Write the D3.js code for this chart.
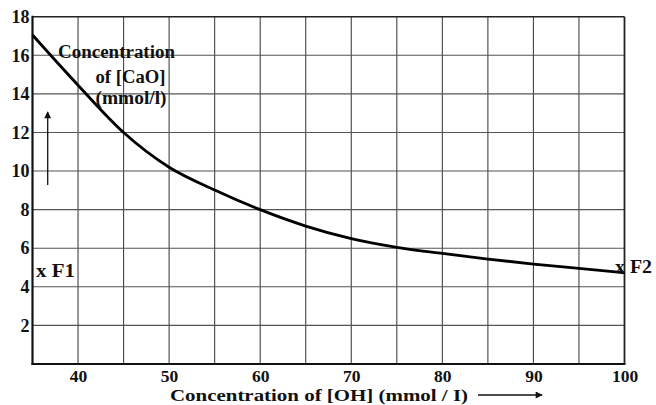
<!DOCTYPE html>
<html><head><meta charset="utf-8">
<script src="https://cdn.jsdelivr.net/npm/d3@7"></script>
<style>
html,body{margin:0;padding:0;background:#fff;}
svg text{font-family:"Liberation Serif","Times New Roman",serif;font-weight:bold;fill:#111;}
</style></head>
<body>
<script>
const ohValues = [35, 40, 45, 50, 55, 60, 65, 70, 75, 80, 85, 90, 95, 100];
const caoValues = [17.05, 14.45, 12.0, 10.2, 9.02, 8.0, 7.15, 6.5, 6.05, 5.73, 5.44, 5.18, 4.96, 4.73];
const xTicks = [40, 50, 60, 70, 80, 90, 100];
const yTicks = [2, 4, 6, 8, 10, 12, 14, 16, 18];
const xGrid = [40, 45, 50, 55, 60, 65, 70, 75, 80, 85, 90, 95];
const yGrid = [2, 4, 6, 8, 10, 12, 14, 16];
const xTitle = "Concentration of [OH] (mmol / I)";
const yTitleLines = ["Concentration", "of [CaO]", "(mmol/l)"];

const W = 656, H = 405;
const svg = d3.select("body").append("svg").attr("width", W).attr("height", H);
const x = d3.scaleLinear().domain([35, 100]).range([32.5, 624.5]);
const y = d3.scaleLinear().domain([0, 18]).range([364, 16.7]);

// grid
svg.append("g").selectAll("line").data(xGrid).join("line")
  .attr("x1", d => x(d)).attr("x2", d => x(d)).attr("y1", y(0)).attr("y2", y(18))
  .attr("stroke", "#444").attr("stroke-width", 1.1);
svg.append("g").selectAll("line").data(yGrid).join("line")
  .attr("x1", x(35)).attr("x2", x(100)).attr("y1", d => y(d)).attr("y2", d => y(d))
  .attr("stroke", "#555").attr("stroke-width", 1.1);

// frame
svg.append("line").attr("x1", x(35)).attr("x2", x(100)).attr("y1", y(18)).attr("y2", y(18)).attr("stroke", "#222").attr("stroke-width", 1.5);
svg.append("line").attr("x1", x(100)).attr("x2", x(100)).attr("y1", y(18)).attr("y2", y(0)).attr("stroke", "#222").attr("stroke-width", 1.8);
svg.append("line").attr("x1", x(35)).attr("x2", x(35)).attr("y1", y(18) - 1).attr("y2", y(0) + 1).attr("stroke", "#111").attr("stroke-width", 2.2);
svg.append("line").attr("x1", x(35) - 1).attr("x2", x(100) + 1).attr("y1", y(0)).attr("y2", y(0)).attr("stroke", "#111").attr("stroke-width", 2.2);

// axes labels (via d3 axes, domain & tick lines hidden)
const xAxis = svg.append("g").attr("transform", `translate(0,${y(0)})`)
  .call(d3.axisBottom(x).tickValues(xTicks).tickSize(0).tickPadding(6));
xAxis.select(".domain").remove();
xAxis.selectAll("text").attr("font-size", 17.5).attr("font-family", "Liberation Serif").attr("font-weight", "bold").attr("fill", "#111");

const yAxis = svg.append("g").attr("transform", `translate(${x(35)},0)`)
  .call(d3.axisLeft(y).tickValues(yTicks).tickSize(0).tickPadding(3));
yAxis.select(".domain").remove();
yAxis.selectAll("text").attr("font-size", 18).attr("font-family", "Liberation Serif").attr("font-weight", "bold").attr("fill", "#111");

// curve
const pts = ohValues.map((v, i) => [v, caoValues[i]]);
svg.append("path").datum(pts)
  .attr("d", d3.line().x(d => x(d[0])).y(d => y(d[1])).curve(d3.curveMonotoneX))
  .attr("fill", "none").attr("stroke", "#000").attr("stroke-width", 2.8);

// y title
const yT = svg.append("g");
yT.append("text").attr("x", 58).attr("y", 57.5).attr("font-size", 18.5)
  .attr("textLength", 117).attr("lengthAdjust", "spacingAndGlyphs").text(yTitleLines[0]);
yT.append("text").attr("x", 95.5).attr("y", 83).attr("font-size", 18.5)
  .attr("textLength", 70).attr("lengthAdjust", "spacingAndGlyphs").text(yTitleLines[1]);
yT.append("text").attr("x", 95.5).attr("y", 104).attr("font-size", 18.5)
  .attr("textLength", 71).attr("lengthAdjust", "spacingAndGlyphs").text(yTitleLines[2]);

// arrows
const defs = svg.append("defs");
defs.append("marker").attr("id", "ah").attr("viewBox", "0 0 10 10").attr("refX", 9).attr("refY", 5)
  .attr("markerWidth", 10).attr("markerHeight", 7).attr("markerUnits", "userSpaceOnUse").attr("orient", "auto")
  .append("path").attr("d", "M0,0 L10,5 L0,10 Z").attr("fill", "#111");
svg.append("line").attr("x1", 47.7).attr("x2", 47.7).attr("y1", 185).attr("y2", 112)
  .attr("stroke", "#111").attr("stroke-width", 1.3).attr("marker-end", "url(#ah)");

// x title
svg.append("text").attr("x", 170).attr("y", 401).attr("font-size", 17)
  .attr("textLength", 298).attr("lengthAdjust", "spacingAndGlyphs").text(xTitle);
svg.append("line").attr("x1", 478).attr("x2", 542).attr("y1", 395).attr("y2", 395)
  .attr("stroke", "#111").attr("stroke-width", 1.3).attr("marker-end", "url(#ah)");

// F1, F2
svg.append("text").attr("x", 36).attr("y", 277).attr("font-size", 18)
  .attr("textLength", 39).attr("lengthAdjust", "spacingAndGlyphs").text("x F1");
svg.append("text").attr("x", 615).attr("y", 273).attr("font-size", 18)
  .attr("textLength", 37).attr("lengthAdjust", "spacingAndGlyphs").text("x F2");
</script>
</body></html>
